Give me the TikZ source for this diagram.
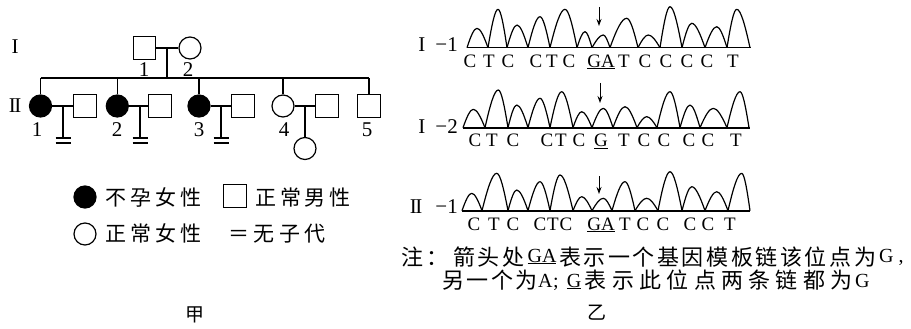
\documentclass[tikz,border=0pt]{standalone}
\usepackage{fontspec}
\setmainfont{Liberation Serif}
\newfontfamily\cjk{Noto Sans CJK SC}
\usetikzlibrary{arrows.meta}
\newlength\pitchlen
\newcommand\spc[2]{\setlength\pitchlen{#1}\spcloop#2\relax}
\def\spcloop#1{\ifx\relax#1\else\makebox[\pitchlen][c]{#1}\expandafter\spcloop\fi}
\newcommand\peaks[2]{%
  \foreach \va/\vp/\vt/\vb in {#2}{%
    \pgfmathsetmacro\ya{#1+0.6*(\vt-#1)}%
    \pgfmathsetmacro\xa{\va+0.38*(\vp-\va)}%
    \pgfmathsetmacro\xb{\vp-0.3*(\vp-\va)}%
    \pgfmathsetmacro\xc{\vp+0.3*(\vb-\vp)}%
    \pgfmathsetmacro\xd{\vb-0.38*(\vb-\vp)}%
    \draw[peak] (\va,#1) .. controls (\xa,\ya) and (\xb,\vt) .. (\vp,\vt) .. controls (\xc,\vt) and (\xd,\ya) .. (\vb,#1);
  }}
\tikzset{
  ln/.style={line width=1.2pt},
  sq/.style={draw, line width=1.2pt, minimum size=22.5pt, inner sep=0pt},
  fem/.style={draw, circle, line width=1.2pt, minimum size=22pt, inner sep=0pt},
  aff/.style={fem, fill=black},
  num/.style={font=\fontsize{21}{21}\selectfont, inner sep=0pt},
  rom/.style={font=\fontsize{21}{21}\selectfont, inner sep=0pt},
  lab/.style={font=\fontsize{21}{21}\selectfont, inner sep=0pt},
  nt/.style={font=\fontsize{19}{19}\selectfont, inner sep=0pt},
  lat/.style={font=\fontsize{20}{20}\selectfont, inner sep=0pt},
  cjkl/.style={font=\cjk\fontsize{21}{21}\selectfont, inner sep=0pt},
  cjkn/.style={font=\cjk\fontsize{22}{22}\selectfont, inner sep=0pt},
  cjkj/.style={font=\cjk\fontsize{19}{19}\selectfont, inner sep=0pt},
  peak/.style={line width=1.2pt, line join=round},
  baseln/.style={line width=1.6pt},
  arr/.style={line width=1pt, -{Stealth[length=7pt,width=5pt]}},
}
\begin{document}
\begin{tikzpicture}[x=1pt,y=-1pt]
\useasboundingbox (0,0) rectangle (911,329);
% ---------------- pedigree ----------------
\node[rom] (g1) at (15,47) {I};
\node[rom] (g2) at (15,106) {I\kern-1.5pt I};
\node[sq] (i1) at (144.5,48) {};
\node[fem] (i2) at (190,48) {};
\draw[ln] (i1.east) -- (i2.west);
\coordinate (m1) at (167,48);
\coordinate (sib) at (167,78);
\draw[ln] (m1) -- (sib);
\node[num] (li1) at (144,70) {1};
\node[num] (li2) at (188,70) {2};
\node[aff] (ii1) at (40.5,106) {};
\node[sq]  (s1)  at (85,106) {};
\node[aff] (ii2) at (117.3,106) {};
\node[sq]  (s2)  at (160,106) {};
\node[aff] (ii3) at (199,106) {};
\node[sq]  (s3)  at (243,106) {};
\node[fem] (ii4) at (283,106) {};
\node[sq]  (s4)  at (327,106) {};
\node[sq]  (ii5) at (369,106) {};
\node[fem] (iii1) at (305,148.5) {};
\draw[ln] (ii1 |- sib) -- (ii5 |- sib);
\foreach \n in {ii1,ii2,ii3,ii4,ii5} \draw[ln] (\n |- sib) -- (\n.north);
\draw[ln] (ii1.east) -- (s1.west);
\draw[ln] (ii2.east) -- (s2.west);
\draw[ln] (ii3.east) -- (s3.west);
\draw[ln] (ii4.east) -- (s4.west);
\foreach \k/\x in {1/63,2/140,3/221}{
  \coordinate (d\k) at (\x,106);
  \coordinate (e\k) at (\x,138);
  \draw[ln] (d\k) -- (e\k);
  \draw[ln] ([xshift=-7.5pt]e\k) -- ([xshift=7.5pt]e\k);
  \draw[ln] ([xshift=-7.5pt,yshift=-5pt]e\k) -- ([xshift=7.5pt,yshift=-5pt]e\k);
}
\coordinate (d4) at (305,106);
\draw[ln] (d4) -- (iii1.north);
\node[num] (n1) at (37,130) {1};
\node[num] (n2) at (117,130) {2};
\node[num] (n3) at (199,130) {3};
\node[num] (n4) at (284,130) {4};
\node[num] (n5) at (367,130) {5};
% ---------------- legend ----------------
\node[aff] (lg1) at (85,197) {};
\node[cjkl, anchor=base west] (lt1) at (103,205) {\spc{25pt}{不孕女性}};
\node[sq] (lg2) at (235,196) {};
\node[cjkl, anchor=base west] (lt2) at (254,205) {\spc{24.5pt}{正常男性}};
\node[fem] (lg3) at (85,234) {};
\node[cjkl, anchor=base west] (lt3) at (103,241.5) {\spc{25pt}{正常女性}};
\node[cjkl, anchor=base west] (lt4) at (226,241.5) {\spc{25.5pt}{＝无子代}};
\node[cjkj] (jia) at (195,315) {甲};
% ---------------- chromatograms ----------------
\node[lab, anchor=base east] (c1) at (458,52) {I\hspace{10pt}−1};
\node[lab, anchor=base east] (c2) at (458,133) {I\hspace{10pt}−2};
\node[lab, anchor=base east] (c3) at (458,213) {I\kern-1.5pt I\hspace{13pt}−1};
\draw[baseln] (467,47.7) -- (751,47.7);
\draw[baseln] (463,127.7) -- (750,127.7);
\draw[baseln] (462,210.7) -- (750,210.7);
\peaks{47.7}{467/477/28.3/488, 488/498/9.3/507, 507/517/25/528, 528/540/16.7/550, 550/565/9.3/577, 577/585/31.7/592, 592/603.3/35/610, 610/626.7/18.3/638, 638/648.3/35/660, 660/670/6.7/682, 682/691.7/23.3/705, 705/716.7/26.7/727, 727/736.7/9.3/750}
\peaks{127.7}{463/473.3/109.3/485, 485/498.3/90/508, 508/516.7/105/528, 528/540/98.3/550, 550/561.7/91.7/573, 573/581.7/111.7/592, 592/603.3/108.3/613, 613/625/106.7/637, 637/646.7/116.7/657, 657/670/91.7/680, 680/690/105/700, 700/713.3/108.3/727, 727/740/91.7/749}
\peaks{210.7}{462/471.7/193.3/482, 482/496.7/173.3/508, 508/516.7/190/528, 528/540/181.7/550, 550/560/175/573, 573/581.7/196.7/592, 592/603.3/198.3/612, 612/625/181.7/635, 635/646.7/198.3/658, 658/670/171.7/682, 682/691.7/186.7/705, 705/716.7/191.7/728, 728/741.7/173.3/750}
\coordinate (a1s) at (599,7);   \coordinate (a1e) at (599,26);
\coordinate (a2s) at (600,83);  \coordinate (a2e) at (600,103);
\coordinate (a3s) at (599,176); \coordinate (a3e) at (599,194);
\draw[arr] (a1s) -- (a1e);
\draw[arr] (a2s) -- (a2e);
\draw[arr] (a3s) -- (a3e);
\foreach \x/\c [count=\i] in {470/C,489/T,508/C,536/C,552/T,569/C,624/T,645/C,666/C,687/C,707/C,733/T}
  \node[nt, anchor=base] (ra\i) at (\x,67) {\c};
\node[nt, anchor=base] (raga) at (601,67) {\underline{GA}};
\foreach \x/\c [count=\i] in {475/C,492/T,513/C,547/C,561/T,579/C,624/T,644/C,664/C,689/C,708/C,736/T}
  \node[nt, anchor=base] (rb\i) at (\x,146.5) {\c};
\node[nt, anchor=base] (rbg) at (601,146.5) {\underline{G}};
\foreach \x/\c [count=\i] in {474/C,494/T,513/C,540/C,553/T,566/C,625/T,643/C,663/C,690/C,708/C,730/T}
  \node[nt, anchor=base] (rc\i) at (\x,230) {\c};
\node[nt, anchor=base] (rcga) at (601,230) {\underline{GA}};
% ---------------- note ----------------
\node[cjkn, anchor=base west] (t1) at (400,265) {\spc{25pt}{注：}};
\node[cjkn, anchor=base west] (t2) at (451.5,265) {\spc{24.75pt}{箭头处}};
\node[lat, anchor=base] (t3) at (542,262) {\underline{GA}};
\node[cjkn, anchor=base west] (t4) at (557.5,265) {\spc{24.6pt}{表示一个基因模板链该位点为}};
\node[lat, anchor=base west] (t5) at (879,262) {G\hspace{5pt},};
\node[cjkn, anchor=base west] (t6) at (440.6,288) {\spc{24.5pt}{另一个为}};
\node[lat, anchor=base west] (t7) at (538,287) {A};
\node[lat, anchor=base west] (t8) at (553,287) {;};
\node[lat, anchor=base] (t9) at (574,287) {\underline{G}};
\node[cjkn, anchor=base west] (t10) at (582,288) {\spc{27.3pt}{表示此位点两条链都为}};
\node[lat, anchor=base west] (t11) at (855,287) {G};
\node[cjkj] (yi) at (597,313) {乙};
\end{tikzpicture}
\end{document}
